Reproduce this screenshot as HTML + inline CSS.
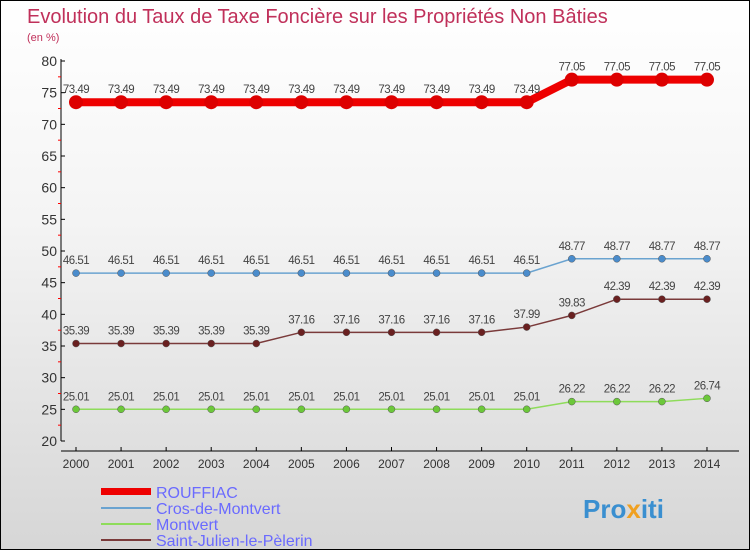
<!DOCTYPE html>
<html><head><meta charset="utf-8"><style>
body{margin:0}
#c{width:750px;height:550px;position:relative;box-sizing:border-box;border:1px solid #000;background:linear-gradient(#fff 0%,#f4f4f4 40%,#d6d6d6 100%);font-family:"Liberation Sans",sans-serif;overflow:hidden}
</style></head><body>
<div id="c">
<svg width="750" height="550" id="s">
<text x="26" y="22" font-size="20" fill="#c0305a">Evolution du Taux de Taxe Foncière sur les Propriétés Non Bâties</text>
<text x="26" y="40" font-size="11" fill="#c0305a">(en %)</text>
<g id="g"></g>
<text x="582" y="517" font-size="26" font-weight="bold" fill="#3a8fd0">Pro<tspan fill="#f0a020">x</tspan>iti</text>
</svg>
</div>
<script>
const years=[2000,2001,2002,2003,2004,2005,2006,2007,2008,2009,2010,2011,2012,2013,2014];
const yTicks=[20,25,30,35,40,45,50,55,60,65,70,75,80];
const rouffiac=[73.49,73.49,73.49,73.49,73.49,73.49,73.49,73.49,73.49,73.49,73.49,77.05,77.05,77.05,77.05];
const cros=[46.51,46.51,46.51,46.51,46.51,46.51,46.51,46.51,46.51,46.51,46.51,48.77,48.77,48.77,48.77];
const montvert=[25.01,25.01,25.01,25.01,25.01,25.01,25.01,25.01,25.01,25.01,25.01,26.22,26.22,26.22,26.74];
const stjulien=[35.39,35.39,35.39,35.39,35.39,37.16,37.16,37.16,37.16,37.16,37.99,39.83,42.39,42.39,42.39];
const seriesNames=["ROUFFIAC","Cros-de-Montvert","Montvert","Saint-Julien-le-Pèlerin"];
const NS="http://www.w3.org/2000/svg",g=document.getElementById('g');
const X=i=>75+i*45.07, Y=v=>440-(v-20)*380/60;
function el(t,a,txt){const e=document.createElementNS(NS,t);for(const k in a)e.setAttribute(k,a[k]);if(txt!==undefined)e.textContent=txt;g.appendChild(e);return e;}
let e=el('line',{x1:60,y1:58,x2:60,y2:440,stroke:'#000'});


e=el('line',{x1:60,y1:450,x2:738,y2:450,stroke:'#000'});


yTicks.forEach(v=>{el('line',{x1:60,y1:Y(v),x2:64,y2:Y(v),stroke:'#000'});
 if(v<80)el('line',{x1:57,y1:Y(v+2.5),x2:60,y2:Y(v+2.5),stroke:'#f00'});
 e=el('text',{x:56,y:Y(v)+5,'font-size':14,fill:'#333','text-anchor':'end'},v);
 
 });
years.forEach((yr,i)=>{el('line',{x1:X(i),y1:446,x2:X(i),y2:450,stroke:'#000'});
 e=el('text',{x:X(i),y:467,'font-size':12,fill:'#333','text-anchor':'middle'},yr);
 
 });
const cfg=[[rouffiac,'#ee0000',8,7,'#dd0000'],[cros,'#6aa3d0',1.5,3.5,'#4a8ccc'],[montvert,'#8edc5a',1.5,3.5,'#6cc83a'],[stjulien,'#7a3a3a',1.5,3.5,'#6a2020']];
cfg.forEach(([d,col,w,r,fc],si)=>{
 e=el('polyline',{points:d.map((v,i)=>X(i)+','+Y(v)).join(' '),fill:'none',stroke:col,'stroke-width':w});
 
 
 d.forEach((v,i)=>{e=el('circle',{cx:X(i),cy:Y(v),r:r,fill:fc,stroke:si?'#555':'none','stroke-width':0.5});
  
  
  e=el('text',{x:X(i),y:Y(v)-9,'font-size':11.5,fill:'#444','text-anchor':'middle','letter-spacing':'-0.5'},v.toFixed(2));
  
  });
 const ly=491+si*16;
 e=el('rect',{x:100,y:ly-(si?1:4),width:50,height:si?2:7,fill:col});
 
 
 e=el('text',{x:155,y:ly+6,'font-size':16,fill:'#6a6aff'},seriesNames[si]);
 
 
});
</script>
</body></html>
